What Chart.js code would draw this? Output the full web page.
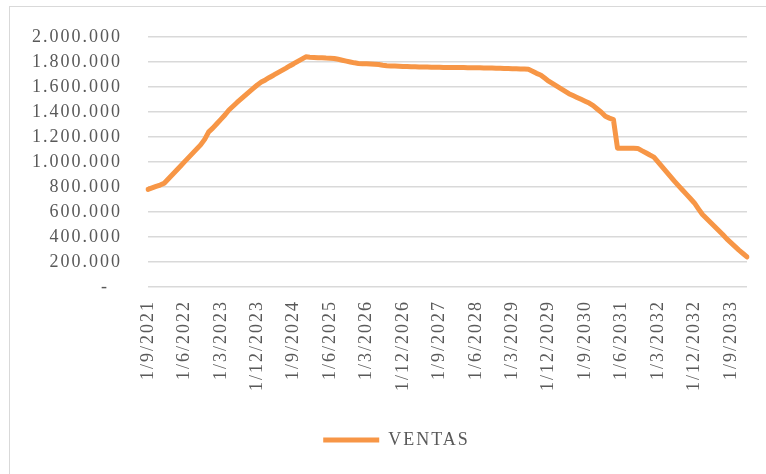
<!DOCTYPE html>
<html>
<head>
<meta charset="utf-8">
<script src="https://cdn.jsdelivr.net/npm/chart.js@4"></script>
<style>
  html, body { margin: 0; padding: 0; background: #fff; }
  #wrap { width: 766px; height: 474px; }
</style>
</head>
<body>
<div id="wrap"><canvas id="chart" width="766" height="474"></canvas></div>
<script>
// monthly sales, first month 1/9/2021
const startYear = 2021;
const startMonth = 9;
const ventas = [
  780000, 792000, 804000, 815000, 830000, 864000, 898000, 932000, 966000, 1000000,
  1034000, 1068000, 1102000, 1136000, 1180000, 1240000, 1270000, 1305000, 1340000, 1375000,
  1415000, 1445000, 1475000, 1503000, 1532000, 1560000, 1588000, 1615000, 1638000, 1655000,
  1675000, 1693000, 1712000, 1730000, 1748000, 1767000, 1785000, 1804000, 1822000, 1840000,
  1837000, 1835000, 1833000, 1832000, 1830000, 1829000, 1827000, 1820000, 1813000, 1806000,
  1799000, 1792000, 1787000, 1785000, 1784000, 1782000, 1780000, 1778000, 1772000, 1768000,
  1767000, 1766000, 1765000, 1763000, 1762000, 1760000, 1760000, 1759000, 1758000, 1758000,
  1757000, 1756000, 1756000, 1755000, 1755000, 1755000, 1754000, 1754000, 1754000, 1753000,
  1753000, 1752000, 1752000, 1751000, 1750000, 1750000, 1749000, 1748000, 1747000, 1746000,
  1745000, 1744000, 1743000, 1742000, 1740000, 1725000, 1708000, 1695000, 1670000, 1645000,
  1625000, 1605000, 1585000, 1565000, 1545000, 1530000, 1515000, 1500000, 1485000, 1470000,
  1450000, 1423000, 1397000, 1365000, 1350000, 1338000, 1110000, 1110000, 1110000, 1110000,
  1110000, 1108000, 1090000, 1073000, 1055000, 1038000, 1000000, 962000, 924000, 886000,
  848000, 812000, 777000, 742000, 707000, 672000, 625000, 580000, 548000, 516000,
  484000, 452000, 420000, 385000, 355000, 325000, 295000, 268000, 240000
];
const labelEvery = 9;
const yMax = 2000000;
const yStep = 200000;

const meses = [];
for (let i = 0; i < ventas.length; i++) {
  const m = (startMonth - 1 + i) % 12 + 1;
  const y = startYear + Math.floor((startMonth - 1 + i) / 12);
  meses.push('1/' + m + '/' + y);
}

const serif = "'Liberation Serif', 'Times New Roman', serif";
const gray = '#595959';
const gridGray = '#d9d9d9';

// canvas resets its state on resize, so set the spacing again before layout and draw
const spacing = {
  id: 'spacing',
  beforeLayout(chart) { chart.ctx.letterSpacing = '2px'; },
  afterLayout(chart) {
    // legend sits a bit right of centre in the original
    if (chart.legend) chart.legend.left += 36;
  },
  beforeDraw(chart) {
    const ctx = chart.ctx;
    ctx.letterSpacing = '2px';
    ctx.save();
    ctx.strokeStyle = gridGray;
    ctx.lineWidth = 1;
    ctx.strokeRect(9.5, 6.5, 800, 500);
    ctx.restore();
  }
};

new Chart(document.getElementById('chart'), {
  type: 'line',
  data: {
    labels: meses,
    datasets: [{
      label: 'VENTAS',
      data: ventas,
      borderColor: '#f79646',
      backgroundColor: '#f79646',
      borderWidth: 5,
      borderCapStyle: 'round',
      borderJoinStyle: 'round',
      pointRadius: 0,
      tension: 0
    }]
  },
  options: {
    responsive: false,
    animation: false,
    layout: { padding: { top: 35, left: 10, right: 19, bottom: 15 } },
    plugins: {
      tooltip: { enabled: false },
      legend: {
        position: 'bottom',
        labels: {
          usePointStyle: true,
          pointStyle: 'line',
          pointStyleWidth: 56,
          color: gray,
          font: { family: serif, size: 18 },
          padding: 10
        }
      }
    },
    scales: {
      x: {
        afterFit: (s) => { s.height = 134; s.paddingLeft = 0; s.paddingRight = 0; },
        grid: { display: false, drawTicks: false },
        border: { display: false },
        ticks: {
          autoSkip: false,
          minRotation: 90,
          maxRotation: 90,
          padding: 13,
          color: gray,
          font: { family: serif, size: 18 },
          callback: (v, i) => (i % labelEvery === 0 ? meses[i] : '')
        }
      },
      y: {
        min: 0,
        max: yMax,
        afterFit: (s) => { s.width = 138; },
        grid: { color: gridGray, lineWidth: 1.5, drawTicks: false },
        border: { display: false },
        ticks: {
          stepSize: yStep,
          padding: 26,
          color: gray,
          font: { family: serif, size: 18 },
          callback: (v) => (v === 0 ? '-  ' : v.toLocaleString('de-DE'))
        }
      }
    }
  },
  plugins: [spacing]
});
</script>
</body>
</html>
